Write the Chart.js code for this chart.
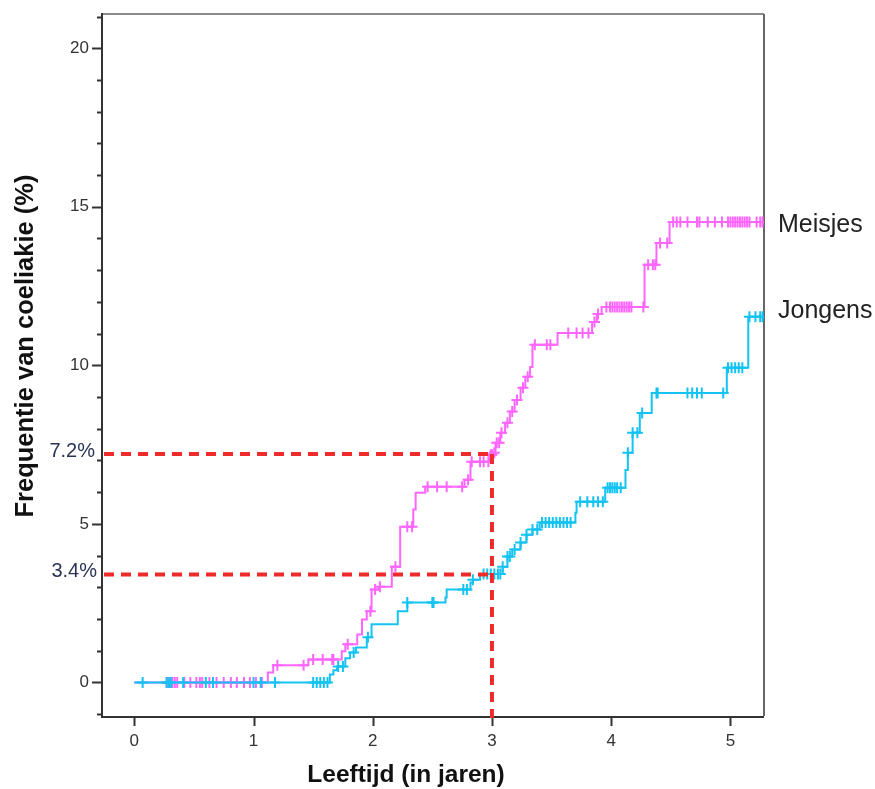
<!DOCTYPE html>
<html>
<head>
<meta charset="utf-8">
<script src="https://cdn.jsdelivr.net/npm/chart.js@4/dist/chart.umd.min.js"></script>
<style>
html,body{margin:0;padding:0;background:#fff;}
canvas{display:block;}
</style>
</head>
<body>
<canvas id="c" width="875" height="789"></canvas>
<script>
// ---- DATA ----
const seriesNames = ['Meisjes', 'Jongens'];
const xTickLabels = [0, 1, 2, 3, 4, 5];
const yTickLabels = [0, 5, 10, 15, 20];
const refX = 3;
const refLevels = [7.2, 3.4];
const refLabels = ['7.2%', '3.4%'];

// Meisjes: event times (years) and cumulative frequency (%)
const meisjesT = [0, 1.12, 1.165, 1.46, 1.74, 1.77, 1.87, 1.91, 1.95, 1.99, 2.05, 2.16, 2.23, 2.34, 2.36, 2.44, 2.77, 2.82, 2.98, 3.01, 3.03, 3.07, 3.11, 3.15, 3.19, 3.24, 3.28, 3.32, 3.34, 3.55, 3.84, 3.88, 3.92, 4.28, 4.38, 4.49, 5.28];
const meisjesY = [0, 0.31, 0.54, 0.72, 0.98, 1.2, 1.51, 1.98, 2.24, 2.93, 3.02, 3.65, 4.91, 5.45, 5.98, 6.17, 6.39, 6.96, 7.18, 7.24, 7.56, 7.87, 8.19, 8.54, 8.91, 9.29, 9.64, 9.95, 10.65, 11.02, 11.37, 11.62, 11.84, 13.17, 13.86, 14.52, 14.52];
// Meisjes: censored times
const meisjesC = [0.28, 0.30, 0.32, 0.34, 0.36, 0.42, 0.47, 0.52, 0.55, 0.57, 0.63, 0.69, 0.75, 0.81, 0.86, 0.92, 0.97, 1.02, 1.07, 1.20, 1.42, 1.50, 1.58, 1.66, 1.67, 1.79, 1.98, 2.02, 2.06, 2.19, 2.29, 2.33, 2.46, 2.54, 2.62, 2.75, 2.80, 2.83, 2.90, 2.93, 2.97, 2.99, 3.00, 3.02, 3.04, 3.06, 3.08, 3.13, 3.17, 3.21, 3.26, 3.30, 3.36, 3.46, 3.49, 3.64, 3.71, 3.76, 3.81, 3.86, 3.89, 3.96, 3.99, 4.01, 4.03, 4.05, 4.07, 4.09, 4.11, 4.13, 4.15, 4.17, 4.27, 4.31, 4.35, 4.37, 4.41, 4.47, 4.52, 4.55, 4.58, 4.64, 4.72, 4.74, 4.81, 4.87, 4.93, 4.98, 5.00, 5.02, 5.04, 5.06, 5.08, 5.10, 5.12, 5.14, 5.16, 5.22, 5.25, 5.27];

// Jongens: event times (years) and cumulative frequency (%)
const jongensT = [0, 1.64, 1.67, 1.70, 1.77, 1.81, 1.86, 1.95, 1.99, 2.21, 2.29, 2.61, 2.62, 2.82, 2.84, 2.90, 3.09, 3.13, 3.17, 3.24, 3.29, 3.34, 3.40, 3.70, 3.71, 3.95, 4.12, 4.14, 4.18, 4.24, 4.34, 4.97, 5.15, 5.28];
const jongensY = [0, 0.25, 0.38, 0.5, 0.76, 0.94, 1.1, 1.42, 1.83, 2.24, 2.52, 2.68, 2.93, 3.15, 3.24, 3.42, 3.65, 3.97, 4.19, 4.41, 4.66, 4.82, 5.04, 5.35, 5.7, 6.14, 6.7, 7.24, 7.87, 8.5, 9.13, 9.92, 11.53, 11.53];
// Jongens: censored times
const jongensC = [0.07, 0.27, 0.29, 0.31, 0.41, 0.60, 0.66, 1.00, 1.06, 1.18, 1.50, 1.53, 1.56, 1.59, 1.62, 1.71, 1.75, 1.84, 1.96, 2.29, 2.50, 2.51, 2.76, 2.79, 2.84, 2.93, 2.96, 2.99, 3.02, 3.05, 3.07, 3.09, 3.13, 3.15, 3.19, 3.24, 3.29, 3.34, 3.38, 3.42, 3.45, 3.48, 3.51, 3.54, 3.57, 3.60, 3.63, 3.66, 3.74, 3.80, 3.85, 3.89, 3.93, 3.97, 3.99, 4.01, 4.03, 4.05, 4.08, 4.14, 4.18, 4.22, 4.26, 4.38, 4.39, 4.64, 4.68, 4.72, 4.76, 4.94, 4.98, 5.01, 5.04, 5.07, 5.10, 5.16, 5.21, 5.25, 5.27];

// ---- helpers ----
function stepAt(T, Y, t) {
  let v = Y[0];
  for (let i = 0; i < T.length; i++) { if (T[i] <= t) v = Y[i]; }
  return v;
}
const pts = (T, Y) => T.map((t, i) => ({x: t, y: Y[i]}));
const cens = (C, T, Y) => C.map(t => ({x: t, y: stepAt(T, Y, t)}));

const PINK = '#ff66ff';
const CYAN = '#14c3f2';
const FONT = "'Liberation Sans', Arial, sans-serif";

const overlay = {
  id: 'overlay',
  beforeDatasetsDraw(chart) {
    const {ctx, chartArea: a, scales: {x, y}} = chart;
    ctx.save();
    // top & right frame
    ctx.strokeStyle = '#8a8a8a';
    ctx.lineWidth = 2;
    ctx.beginPath();
    ctx.moveTo(a.left, a.top); ctx.lineTo(a.right, a.top);
    ctx.stroke();
    ctx.strokeStyle = '#666';
    ctx.beginPath();
    ctx.moveTo(a.right, a.top); ctx.lineTo(a.right, a.bottom);
    ctx.stroke();
    // left & bottom axes
    ctx.strokeStyle = '#333';
    ctx.lineWidth = 2;
    ctx.beginPath();
    ctx.moveTo(a.left, a.top - 1); ctx.lineTo(a.left, a.bottom + 1); ctx.lineTo(a.right, a.bottom + 1);
    ctx.stroke();
    // y ticks
    ctx.lineWidth = 2;
    for (let v = -1; v <= 21; v++) {
      const py = Math.round(y.getPixelForValue(v)) + 0.5;
      const len = (v % 5 === 0) ? 10 : 5;
      ctx.beginPath(); ctx.moveTo(a.left - len, py); ctx.lineTo(a.left, py); ctx.stroke();
    }
    // x ticks
    xTickLabels.forEach(v => {
      const px = Math.round(x.getPixelForValue(v)) + 0.5;
      ctx.beginPath(); ctx.moveTo(px, a.bottom + 1); ctx.lineTo(px, a.bottom + 10); ctx.stroke();
    });
    ctx.restore();
  },
  afterDatasetsDraw(chart) {
    const {ctx, chartArea: a, scales: {x, y}} = chart;
    ctx.save();
    // red reference dashed lines
    ctx.strokeStyle = '#ee2b2b';
    ctx.lineWidth = 4;
    ctx.setLineDash([10, 7]);
    const px = x.getPixelForValue(refX);
    refLevels.forEach(l => {
      const py = y.getPixelForValue(l);
      ctx.beginPath(); ctx.moveTo(a.left + 2, py); ctx.lineTo(px, py); ctx.stroke();
    });
    ctx.beginPath();
    ctx.moveTo(px, y.getPixelForValue(Math.max(...refLevels)));
    ctx.lineTo(px, a.bottom + 2);
    ctx.stroke();
    ctx.setLineDash([]);
    // reference labels
    ctx.fillStyle = '#2a3356';
    ctx.font = '20px ' + FONT;
    ctx.textAlign = 'right';
    ctx.textBaseline = 'middle';
    refLevels.forEach((l, i) => {
      ctx.fillText(refLabels[i], a.left - 7 + (i === 1 ? 2 : 0), y.getPixelForValue(l) - 3);
    });
    // series labels at curve ends
    ctx.fillStyle = '#222';
    ctx.font = '25px ' + FONT;
    ctx.textAlign = 'left';
    ctx.textBaseline = 'middle';
    ctx.fillText(seriesNames[0], a.right + 14, y.getPixelForValue(meisjesY[meisjesY.length - 1]) + 3);
    ctx.fillText(seriesNames[1], a.right + 14, y.getPixelForValue(jongensY[jongensY.length - 1]) - 6);
    // axis titles
    ctx.fillStyle = '#111';
    ctx.font = 'bold 24.5px ' + FONT;
    ctx.textAlign = 'center';
    ctx.textBaseline = 'alphabetic';
    ctx.fillText('Leeftijd (in jaren)', 406, 782);
    ctx.save();
    ctx.translate(33, 346);
    ctx.rotate(-Math.PI / 2);
    ctx.font = 'bold 25.5px ' + FONT;
    ctx.fillText('Frequentie van coeliakie (%)', 0, 0);
    ctx.restore();
    ctx.restore();
  }
};

new Chart(document.getElementById('c'), {
  type: 'line',
  data: {
    datasets: [
      {label: seriesNames[1], data: pts(jongensT, jongensY), borderColor: CYAN, borderWidth: 2, stepped: true, pointRadius: 0, fill: false},
      {label: seriesNames[1] + ' censored', data: cens(jongensC, jongensT, jongensY), showLine: false, pointStyle: 'cross', pointRadius: 5.5, borderColor: CYAN, pointBorderWidth: 2, backgroundColor: CYAN},
      {label: seriesNames[0], data: pts(meisjesT, meisjesY), borderColor: PINK, borderWidth: 2, stepped: true, pointRadius: 0, fill: false},
      {label: seriesNames[0] + ' censored', data: cens(meisjesC, meisjesT, meisjesY), showLine: false, pointStyle: 'cross', pointRadius: 5.5, borderColor: PINK, pointBorderWidth: 2, backgroundColor: PINK}
    ]
  },
  options: {
    responsive: false,
    animation: false,
    devicePixelRatio: 1,
    layout: {padding: {left: 0, top: 14, right: 111, bottom: 0}},
    plugins: {legend: {display: false}, tooltip: {enabled: false}},
    scales: {
      x: {
        type: 'linear', min: -0.271, max: 5.282,
        afterBuildTicks: s => { s.ticks = xTickLabels.map(v => ({value: v})); },
        afterFit: s => { s.height = 73; s.paddingLeft = 0; s.paddingRight = 0; },
        grid: {display: false, drawTicks: false},
        border: {display: false},
        ticks: {autoSkip: false, maxRotation: 0, padding: 15, color: '#333', font: {family: FONT, size: 17}}
      },
      y: {
        type: 'linear', min: -1.06, max: 21.08,
        afterBuildTicks: s => { const t = []; for (let v = -1; v <= 21; v++) t.push({value: v}); s.ticks = t; },
        afterFit: s => { s.width = 102; s.paddingTop = 0; s.paddingBottom = 0; },
        grid: {display: false, drawTicks: false},
        border: {display: false},
        ticks: {autoSkip: false, padding: 13, color: '#333', font: {family: FONT, size: 17},
          callback: v => yTickLabels.includes(v) ? String(v) : ''}
      }
    }
  },
  plugins: [overlay]
});
</script>
</body>
</html>
